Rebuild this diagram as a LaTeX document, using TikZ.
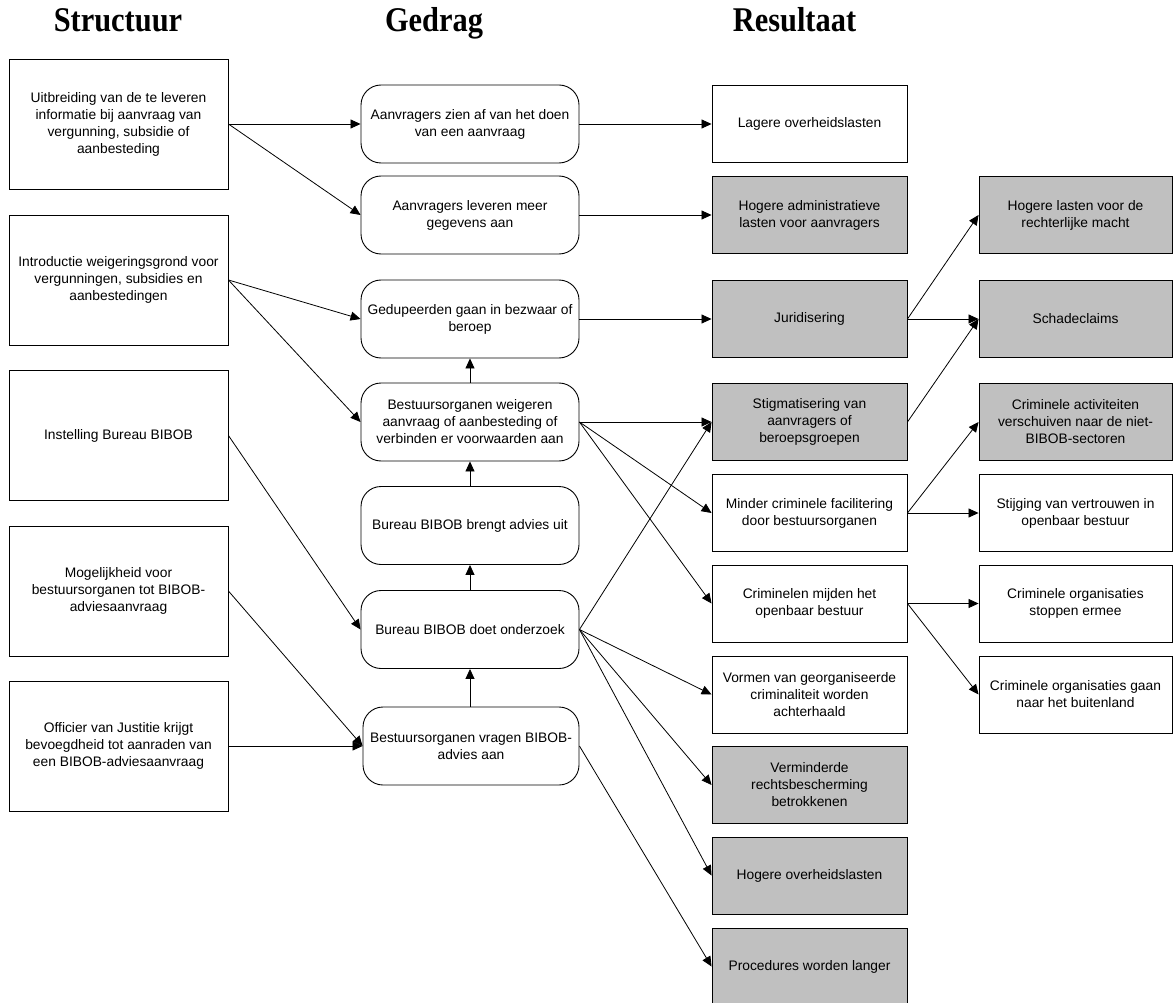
\documentclass[tikz,border=0pt]{standalone}
\usepackage{fontspec}
\usepackage{graphicx}
\usetikzlibrary{arrows.meta}
\newfontfamily\arialf{Liberation Sans}
\newfontfamily\timesf{Liberation Serif}
\definecolor{silverfill}{HTML}{C0C0C0}
\begin{document}
\begin{tikzpicture}[x=1pt,y=-1pt,
  base/.style={draw=black, line width=0.9pt, font=\arialf\fontsize{13.8}{17}\selectfont, align=center, inner sep=0pt, text=black},
  lbox/.style={base, minimum width=219pt, minimum height=130pt},
  mbox/.style={base, rounded corners=20pt, minimum width=218pt, minimum height=78pt},
  rbox/.style={base, minimum width=195pt, minimum height=77pt},
  gbox/.style={rbox, fill=silverfill},
  sbox/.style={base, minimum width=193pt, minimum height=77pt},
  sgbox/.style={sbox, fill=silverfill},
  title/.style={font=\timesf\bfseries\fontsize{30.4}{34}\selectfont, anchor=base, inner sep=0pt},
  arr/.style={-{Triangle[length=10pt,width=9pt]}, line width=0.8pt}
]
\useasboundingbox (0,0) rectangle (1173,1003);

% titles
\node[title] (t1) at (118,32) {\scalebox{1}[1.14]{Structuur}};
\node[title] (t2) at (434,32) {\scalebox{1}[1.14]{Gedrag}};
\node[title] (t3) at (794.5,32) {\scalebox{1}[1.14]{Resultaat}};

% left column
\node[lbox] (L1) at (118.5,124) {Uitbreiding van de te leveren\\informatie bij aanvraag van\\vergunning, subsidie of\\aanbesteding};
\node[lbox] (L2) at (118.5,280) {Introductie weigeringsgrond voor\\vergunningen, subsidies en\\aanbestedingen};
\node[lbox] (L3) at (118.5,435.5) {Instelling Bureau BIBOB};
\node[lbox] (L4) at (118.5,591) {Mogelijkheid voor\\bestuursorganen tot BIBOB-\\adviesaanvraag};
\node[lbox] (L5) at (118.5,746) {Officier van Justitie krijgt\\bevoegdheid tot aanraden van\\een BIBOB-adviesaanvraag};

% middle column
\node[mbox] (M1) at (470,124) {Aanvragers zien af van het doen\\van een aanvraag};
\node[mbox] (M2) at (470,215) {Aanvragers leveren meer\\gegevens aan};
\node[mbox] (M3) at (470,319) {Gedupeerden gaan in bezwaar of\\beroep};
\node[mbox] (M4) at (470,422) {Bestuursorganen weigeren\\aanvraag of aanbesteding of\\verbinden er voorwaarden aan};
\node[mbox] (M5) at (470,525.5) {Bureau BIBOB brengt advies uit};
\node[mbox] (M6) at (470,629.5) {Bureau BIBOB doet onderzoek};
\node[mbox, minimum width=216pt] (M7) at (471,746) {Bestuursorganen vragen BIBOB-\\advies aan};

% result column 1
\node[rbox] (R1) at (809.5,124) {Lagere overheidslasten};
\node[gbox] (R2) at (809.5,215) {Hogere administratieve\\lasten voor aanvragers};
\node[gbox] (R3) at (809.5,319) {Juridisering};
\node[gbox] (R4) at (809.5,422) {Stigmatisering van\\aanvragers of\\beroepsgroepen};
\node[rbox] (R5) at (809.5,513) {Minder criminele facilitering\\door bestuursorganen};
\node[rbox] (R6) at (809.5,603.5) {Criminelen mijden het\\openbaar bestuur};
\node[rbox] (R7) at (809.5,694.5) {Vormen van georganiseerde\\criminaliteit worden\\achterhaald};
\node[gbox] (R8) at (809.5,785) {Verminderde\\rechtsbescherming\\betrokkenen};
\node[gbox] (R9) at (809.5,875.5) {Hogere overheidslasten};
\node[gbox] (R10) at (809.5,966.5) {Procedures worden langer};

% result column 2
\node[sgbox] (S1) at (1075.5,215) {Hogere lasten voor de\\rechterlijke macht};
\node[sgbox] (S2) at (1075.5,319) {Schadeclaims};
\node[sgbox] (S3) at (1075.5,422) {Criminele activiteiten\\verschuiven naar de niet-\\BIBOB-sectoren};
\node[sbox] (S4) at (1075.5,513) {Stijging van vertrouwen in\\openbaar bestuur};
\node[sbox] (S5) at (1075.5,603.5) {Criminele organisaties\\stoppen ermee};
\node[sbox] (S6) at (1075.5,694.5) {Criminele organisaties gaan\\naar het buitenland};

% left -> middle
\draw[arr] (L1.east) -- (M1.west);
\draw[arr] (L1.east) -- (M2.west);
\draw[arr] (L2.east) -- (M3.west);
\draw[arr] (L2.east) -- (M4.west);
\draw[arr] (L3.east) -- (M6.west);
\draw[arr] (L4.east) -- (M7.west);
\draw[arr] (L5.east) -- (M7.west);

% middle vertical
\draw[arr] (M4.north) -- (M3.south);
\draw[arr] (M5.north) -- (M4.south);
\draw[arr] (M6.north) -- (M5.south);
\draw[arr] (M7.north -| M6.south) -- (M6.south);

% middle -> results
\draw[arr] (M1.east) -- (R1.west);
\draw[arr] (M2.east) -- (R2.west);
\draw[arr] (M3.east) -- (R3.west);
\draw[arr] (M4.east) -- (R4.west);
\draw[arr] (M4.east) -- (R5.west);
\draw[arr] (M4.east) -- (R6.west);
\draw[arr] (M6.east) -- (R4.west);
\draw[arr] (M6.east) -- (R7.west);
\draw[arr] (M6.east) -- (R8.west);
\draw[arr] (M6.east) -- (R9.west);
\draw[arr] (M7.east) -- (R10.west);

% results -> second results
\draw[arr] (R3.east) -- (S1.west);
\draw[arr] (R3.east) -- (S2.west);
\draw[arr] (R4.east) -- (S2.west);
\draw[arr] (R5.east) -- (S3.west);
\draw[arr] (R5.east) -- (S4.west);
\draw[arr] (R6.east) -- (S5.west);
\draw[arr] (R6.east) -- (S6.west);
\end{tikzpicture}
\end{document}
